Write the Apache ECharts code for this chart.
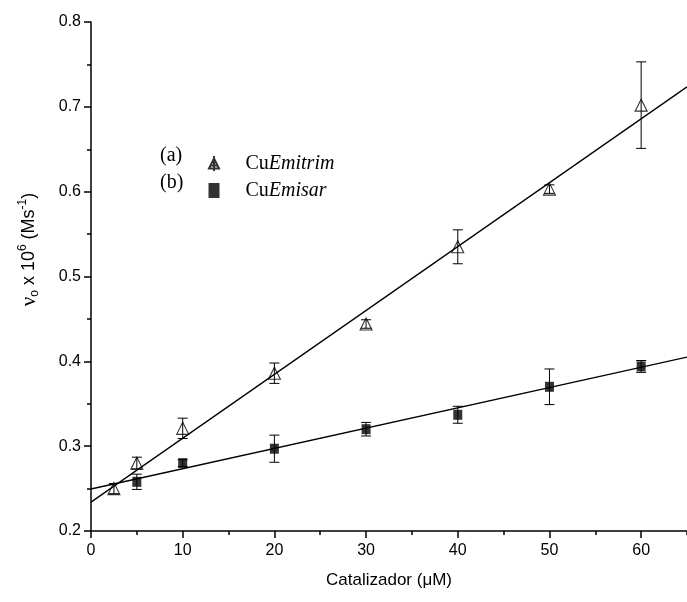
<!DOCTYPE html>
<html>
<head>
<meta charset="utf-8">
<script src="https://cdn.jsdelivr.net/npm/echarts@6/dist/echarts.min.js"></script>
<style>html,body{margin:0;padding:0;background:#fff}#c{width:687px;height:602px}</style>
</head>
<body>
<div id="c"></div>
<script>
// ---- data ----
const seriesNames = ['CuEmitrim', 'CuEmisar'];
const legendTags = ['(a)', '(b)'];
const xEmitrim = [2.5, 5, 10, 20, 30, 40, 50, 60];
const yEmitrim = [0.250, 0.280, 0.321, 0.386, 0.444, 0.535, 0.603, 0.702];
const eEmitrim = [0.006, 0.007, 0.012, 0.012, 0.005, 0.020, 0.005, 0.051];
const xEmisar = [5, 10, 20, 30, 40, 50, 60];
const yEmisar = [0.258, 0.280, 0.297, 0.320, 0.337, 0.370, 0.394];
const eEmisar = [0.009, 0.004, 0.016, 0.008, 0.010, 0.021, 0.007];
const fitX = [0, 65];
const fitEmitrim = [0.234, 0.7235];
const fitEmisar = [0.2495, 0.405];
const xMajorTicks = [0, 10, 20, 30, 40, 50, 60];
const xMinorTicks = [5, 15, 25, 35, 45, 55, 65];
const yMajorTicks = [0.2, 0.3, 0.4, 0.5, 0.6, 0.7, 0.8];
const yMinorTicks = [0.25, 0.35, 0.45, 0.55, 0.65, 0.75];

const zip = (xs, ys) => xs.map((x, i) => [x, ys[i]]);
const errData = (xs, ys, es) => xs.map((x, i) => [x, ys[i] - es[i], ys[i] + es[i]]);

const triPath = 'path://M5,0L10,10L0,10Z';
const triLegend = 'path://M5,0L10,10L0,10Z M5,-2.5L5,12.5 M1,7L9,7';

const chart = echarts.init(document.getElementById('c'));
const axisCommon = {
  axisLine: { show: true, lineStyle: { color: '#000', width: 1.5 } },
  splitLine: { show: false }
};
function errRender(params, api) {
  const x = api.value(0), lo = api.value(1), hi = api.value(2);
  const a = api.coord([x, hi]), b = api.coord([x, lo]);
  const w = 5;
  const st = { stroke: '#000', lineWidth: 1 };
  return {
    type: 'group',
    children: [
      { type: 'line', shape: { x1: a[0], y1: a[1], x2: b[0], y2: b[1] }, style: st },
      { type: 'line', shape: { x1: a[0] - w, y1: a[1], x2: a[0] + w, y2: a[1] }, style: st },
      { type: 'line', shape: { x1: b[0] - w, y1: b[1], x2: b[0] + w, y2: b[1] }, style: st }
    ]
  };
}

chart.setOption({
  animation: false,
  backgroundColor: '#fff',
  grid: { left: 91, top: 22, width: 600, height: 509, containLabel: false },
  xAxis: [
    Object.assign({}, axisCommon, {
      type: 'value', min: 0, max: 65, position: 'bottom',
      axisTick: { show: true, length: 7, customValues: xMajorTicks, lineStyle: { color: '#000', width: 1.5 } },
      axisLabel: { customValues: xMajorTicks, margin: 12, color: '#000', fontSize: 16, fontFamily: 'Liberation Sans' },
      name: 'Catalizador (\u03bcM)', nameLocation: 'middle', nameGap: 41,
      nameTextStyle: { color: '#000', fontSize: 17, fontFamily: 'Liberation Sans' }
    }),
    {
      type: 'value', min: 0, max: 65, position: 'bottom', gridIndex: 0,
      axisLine: { show: false }, splitLine: { show: false }, axisLabel: { show: false },
      axisTick: { show: true, length: 4, customValues: xMinorTicks, lineStyle: { color: '#000', width: 1.5 } }
    }
  ],
  yAxis: [
    Object.assign({}, axisCommon, {
      type: 'value', min: 0.2, max: 0.8, position: 'left',
      axisTick: { show: true, length: 7, customValues: yMajorTicks, lineStyle: { color: '#000', width: 1.5 } },
      axisLabel: { customValues: yMajorTicks, margin: 10, color: '#000', fontSize: 16, fontFamily: 'Liberation Sans',
        formatter: v => v.toFixed(1) },
      name: '{nu|\u03bd}{sub|o}{t| x 10}{sup|6}{t| (Ms}{sup|-1}{t|)}',
      nameLocation: 'middle', nameRotate: 90, nameGap: 50,
      nameTextStyle: {
        color: '#000',
        padding: [0, 0, 0, 54],
        rich: {
          nu: { fontSize: 21, fontFamily: 'Liberation Serif', color: '#000' },
          sub: { fontSize: 12, fontFamily: 'Liberation Sans', color: '#000', padding: [12, 0, 0, 0] },
          t: { fontSize: 18, fontFamily: 'Liberation Sans', color: '#000' },
          sup: { fontSize: 12, fontFamily: 'Liberation Sans', color: '#000', padding: [0, 0, 12, 0] }
        }
      }
    }),
    {
      type: 'value', min: 0.2, max: 0.8, position: 'left', gridIndex: 0,
      axisLine: { show: false }, splitLine: { show: false }, axisLabel: { show: false },
      axisTick: { show: true, length: 4, customValues: yMinorTicks, lineStyle: { color: '#000', width: 1.5 } }
    }
  ],
  legend: {
    orient: 'vertical', left: 203, top: 148,
    itemWidth: 11, itemHeight: 15, itemGap: 6,
    data: [
      { name: seriesNames[0], icon: triLegend },
      { name: seriesNames[1], icon: 'rect', itemStyle: { color: '#000' } }
    ],
    formatter: n => '{n|Cu}{i|' + n.slice(2) + '}',
    textStyle: {
      padding: [0, 0, 0, 21],
      lineHeight: 21,
      rich: {
        n: { fontFamily: 'Liberation Serif', fontSize: 20, color: '#000' },
        i: { fontFamily: 'Liberation Serif', fontSize: 20, fontStyle: 'italic', color: '#000' }
      }
    }
  },
  graphic: [
    { type: 'text', left: 160, top: 146, style: { text: legendTags[0], font: '20px "Liberation Serif"', fill: '#000' } },
    { type: 'text', left: 160, top: 173, style: { text: legendTags[1], font: '20px "Liberation Serif"', fill: '#000' } }
  ],
  series: [
    { name: 'fitA', type: 'line', data: zip(fitX, fitEmitrim), showSymbol: false, silent: true,
      lineStyle: { color: '#000', width: 1.3 }, z: 1 },
    { name: 'fitB', type: 'line', data: zip(fitX, fitEmisar), showSymbol: false, silent: true,
      lineStyle: { color: '#000', width: 1.3 }, z: 1 },
    { name: 'errA', type: 'custom', renderItem: errRender, data: errData(xEmitrim, yEmitrim, eEmitrim),
      encode: { x: 0, y: [1, 2] }, z: 2 },
    { name: 'errB', type: 'custom', renderItem: errRender, data: errData(xEmisar, yEmisar, eEmisar),
      encode: { x: 0, y: [1, 2] }, z: 2 },
    { name: seriesNames[0], type: 'scatter', data: zip(xEmitrim, yEmitrim), symbol: triPath, symbolSize: [12, 12],
      itemStyle: { color: 'rgba(0,0,0,0)', borderColor: '#000', borderWidth: 1.1 }, z: 3 },
    { name: seriesNames[1], type: 'scatter', data: zip(xEmisar, yEmisar), symbol: 'rect', symbolSize: [9, 10],
      itemStyle: { color: '#000' }, z: 3 }
  ]
});
</script>
</body>
</html>
